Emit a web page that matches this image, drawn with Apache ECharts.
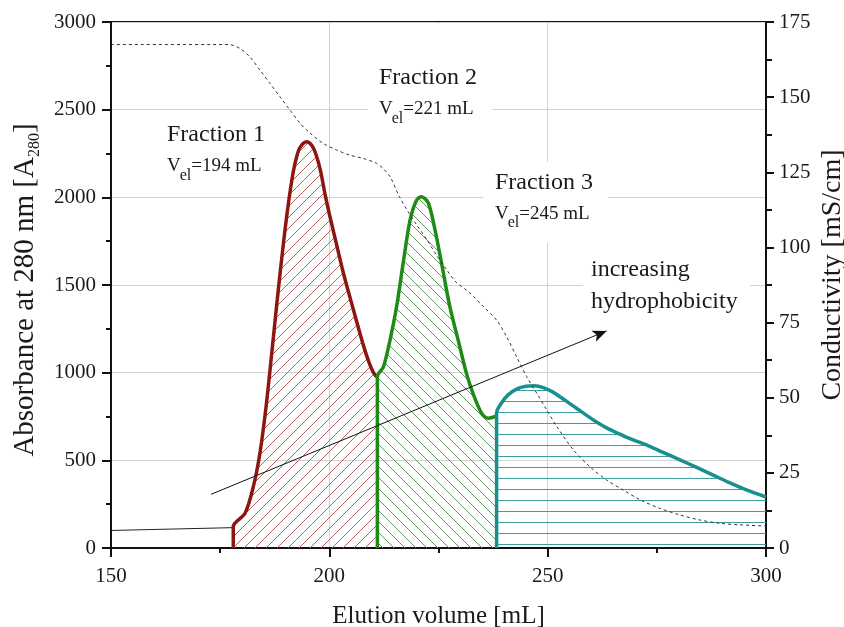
<!DOCTYPE html>
<html>
<head>
<meta charset="utf-8">
<script src="https://cdn.jsdelivr.net/npm/echarts@6/dist/echarts.min.js"></script>
<style>
  html, body { margin: 0; padding: 0; background: #fff; }
  #chart { width: 844px; height: 627px; }
</style>
</head>
<body>
<div id="chart"></div>
<script>
// absorbance (left axis), [elution volume mL, A280]
const baseline = [[150, 100], [177.8, 116]];
const fraction1 = [[178, 0], [178, 122], [180.7, 198], [182.6, 350], [184.1, 540], [185.6, 825], [187.2, 1205],
  [188.3, 1470], [189.5, 1740], [190.6, 1960], [191.7, 2140], [192.5, 2230], [193.3, 2285], [194.8, 2317],
  [196, 2295], [197, 2240], [198, 2150], [199, 2020], [200, 1905], [201, 1800], [202, 1695], [203, 1590],
  [204, 1495], [205, 1405], [206, 1315], [207, 1225], [208, 1140], [209, 1065], [210, 1005], [210.8, 975]];
const fraction2 = [[211, 0], [211, 977], [212.4, 1034], [213.9, 1186], [215.4, 1376], [216.9, 1624], [218.5, 1871],
  [220, 1985], [221.1, 2004], [222.7, 1966], [224.2, 1814], [225.7, 1624], [227.6, 1376], [229.5, 1186],
  [231.4, 996], [232.9, 882], [234.9, 768], [236.4, 740], [238.2, 752]];
const fraction3 = [[238.3, 0], [238.3, 770], [239.5, 830], [241, 875], [243, 908], [245, 922], [247, 925], [249, 915],
  [251, 892], [253, 860], [255, 825], [257, 790], [259, 755], [261, 722], [263.5, 685], [266, 655], [269, 622],
  [272.7, 587], [276, 550], [280.3, 503], [284, 461], [287.9, 416], [291.5, 374], [295.5, 331], [300, 291]];
// conductivity (right axis), mS/cm
const conductivity = [[150, 167.5], [177, 167.5], [179.5, 166.2], [181.8, 163.4], [184.1, 159], [186.4, 154.6],
  [188.7, 150.1], [191, 145.7], [193.3, 141.3], [195.6, 138], [198.6, 134.6], [201.7, 132.4], [204.7, 130.7],
  [207.8, 129.6], [210.8, 128], [212.5, 126], [214, 123.3], [216, 117], [218, 112], [220, 107.5], [222.4, 102.5],
  [224.5, 97.5], [226.9, 92.5], [229, 88.5], [231.4, 85.8], [233.5, 83], [235.3, 80.3], [238.3, 75.8], [240.6, 70.3],
  [242.9, 63.6], [245.2, 57], [247.5, 51.5], [249.8, 45.9], [252.1, 40.4], [255.9, 32.6], [259.7, 27], [263.5, 22.6],
  [267.3, 19.3], [271.2, 16], [275.7, 13.2], [280.3, 11], [284.9, 9.3], [289.5, 8.2], [294, 7.7], [300, 7.3]];
// arrow "increasing hydrophobicity"
const arrowFrom = [172.9, 306];
const arrowTo = [263.5, 1238];
const fractionNames = ['Fraction 1', 'Fraction 2', 'Fraction 3'];
const elutionVolumes = ['194', '221', '245'];

const FONT = '"Liberation Serif", "Times New Roman", serif';
const TXT = '#1a1a1a';

function hatch(kind, color, size) {
  const c = document.createElement('canvas');
  c.width = size; c.height = size;
  const g = c.getContext('2d');
  g.strokeStyle = color;
  g.lineWidth = 1;
  g.beginPath();
  if (kind === 'up') {
    for (let k = -1; k <= 1; k++) { g.moveTo(k * size, size); g.lineTo(k * size + size, 0); }
  } else if (kind === 'down') {
    for (let k = -1; k <= 1; k++) { g.moveTo(k * size, 0); g.lineTo(k * size + size, size); }
  } else {
    g.moveTo(0, 5.5); g.lineTo(size, 5.5);
    g.moveTo(0, 16.5); g.lineTo(size, 16.5);
  }
  g.stroke();
  return { image: c, repeat: 'repeat' };
}

const measure = document.createElement('canvas').getContext('2d');
function textWidth(str, size) {
  measure.font = size + 'px ' + FONT;
  return measure.measureText(str).width;
}

// "Fraction n" + V_el line, y is the title's middle
function label(x, y, idx) {
  const vy = y + 31.5;
  const wV = textWidth('V', 19);
  const wEl = textWidth('el', 16);
  return [
    { type: 'text', z: 10, x: x, y: y, style: { text: fractionNames[idx], font: '24px ' + FONT, fill: TXT, verticalAlign: 'middle' } },
    { type: 'text', z: 10, x: x, y: vy, style: { text: 'V', font: '19px ' + FONT, fill: TXT, verticalAlign: 'middle' } },
    { type: 'text', z: 10, x: x + wV - 1, y: vy + 9, style: { text: 'el', font: '16px ' + FONT, fill: TXT, verticalAlign: 'middle' } },
    { type: 'text', z: 10, x: x + wV + wEl - 1, y: vy, style: { text: '=' + elutionVolumes[idx] + ' mL', font: '19px ' + FONT, fill: TXT, verticalAlign: 'middle' } }
  ];
}

const chart = echarts.init(document.getElementById('chart'));
const option = {
  animation: false,
  grid: { left: 111, right: 78, top: 22, bottom: 79, outerBoundsMode: 'none', containLabel: false,
    show: true, borderColor: '#111', borderWidth: 2 },
  xAxis: {
    type: 'value', min: 150, max: 300, interval: 50,
    name: 'Elution volume [mL]', nameLocation: 'middle', nameGap: 56,
    nameTextStyle: { fontFamily: FONT, fontSize: 25, color: TXT },
    axisLine: { onZero: false, lineStyle: { color: '#111', width: 2 } },
    axisTick: { length: 9, lineStyle: { color: '#111', width: 2 } },
    minorTick: { show: true, splitNumber: 2, length: 5, lineStyle: { color: '#111', width: 2 } },
    axisLabel: { fontFamily: FONT, fontSize: 21, color: TXT, margin: 18, formatter: v => String(v) },
    splitLine: { show: true, lineStyle: { color: '#d2d2d2', width: 1 } }
  },
  yAxis: [{
    type: 'value', min: 0, max: 3000, interval: 500,
    name: 'Absorbance at 280 nm [A{s|280}]', nameLocation: 'middle', nameGap: 68,
    nameTextStyle: { fontFamily: FONT, fontSize: 29, color: TXT, padding: [0, 10, 0, 0],
      rich: { s: { fontFamily: FONT, fontSize: 16, color: TXT, verticalAlign: 'bottom', padding: [19, 0, 0, 0] } } },
    axisLine: { show: true, lineStyle: { color: '#111', width: 2 } },
    axisTick: { show: true, length: 9, lineStyle: { color: '#111', width: 2 } },
    minorTick: { show: true, splitNumber: 2, length: 5, lineStyle: { color: '#111', width: 2 } },
    axisLabel: { fontFamily: FONT, fontSize: 21, color: TXT, margin: 15, formatter: v => String(v) },
    splitLine: { show: true, lineStyle: { color: '#d2d2d2', width: 1 } }
  }, {
    type: 'value', min: 0, max: 175, interval: 25, position: 'right',
    name: 'Conductivity [mS/cm]', nameLocation: 'middle', nameGap: 53, nameMoveOverlap: false,
    nameTextStyle: { fontFamily: FONT, fontSize: 28, color: TXT, padding: [0, 0, 0, 20] },
    axisLine: { show: true, lineStyle: { color: '#111', width: 2 } },
    axisTick: { show: true, length: 8, lineStyle: { color: '#111', width: 2 } },
    minorTick: { show: true, splitNumber: 2, length: 6, lineStyle: { color: '#111', width: 2 } },
    axisLabel: { fontFamily: FONT, fontSize: 21, color: TXT, margin: 13, formatter: v => String(v) },
    splitLine: { show: false }
  }],
  graphic: [
    { type: 'rect', z: 1, shape: { x: 368, y: 58, width: 124, height: 72 }, style: { fill: '#fff' } },
    { type: 'rect', z: 1, shape: { x: 483, y: 162, width: 125, height: 81 }, style: { fill: '#fff' } },
    { type: 'rect', z: 1, shape: { x: 583, y: 255, width: 167, height: 65 }, style: { fill: '#fff' } },
    ...label(167, 135, 0),
    ...label(379, 78, 1),
    ...label(495, 182.5, 2),
    { type: 'text', z: 10, x: 591, y: 270, style: { text: 'increasing', font: '24px ' + FONT, fill: TXT, verticalAlign: 'middle' } },
    { type: 'text', z: 10, x: 591, y: 302, style: { text: 'hydrophobicity', font: '24px ' + FONT, fill: TXT, verticalAlign: 'middle' } }
  ],
  series: [
    {
      type: 'line', data: baseline, symbol: 'none', z: 3,
      lineStyle: { color: '#222', width: 1 },
      markLine: {
        silent: true, symbol: ['none', 'arrow'], symbolSize: [9, 14],
        label: { show: false },
        lineStyle: { color: '#111', width: 1, type: 'solid' },
        data: [[{ coord: arrowFrom }, { coord: arrowTo }]]
      }
    },
    {
      type: 'line', data: fraction1, symbol: 'none', smooth: 0.3, z: 4,
      lineStyle: { color: '#8e1610', width: 3.5 },
      areaStyle: { color: hatch('up', '#b06262', 11), opacity: 1 }
    },
    {
      type: 'line', data: fraction2, symbol: 'none', smooth: 0.3, z: 4,
      lineStyle: { color: '#1f8a15', width: 3.5 },
      areaStyle: { color: hatch('down', '#5c985c', 11), opacity: 1 }
    },
    {
      type: 'line', data: fraction3, symbol: 'none', smooth: 0.3, z: 4,
      lineStyle: { color: '#18908f', width: 3.5 },
      areaStyle: { color: hatch('flat', '#3d9d9d', 22), opacity: 1 }
    },
    {
      type: 'line', data: conductivity, yAxisIndex: 1, symbol: 'none', smooth: 0.3, z: 5,
      lineStyle: { color: '#333', width: 1, type: [3, 3] }
    }
  ]
};
chart.setOption(option);
</script>
</body>
</html>
